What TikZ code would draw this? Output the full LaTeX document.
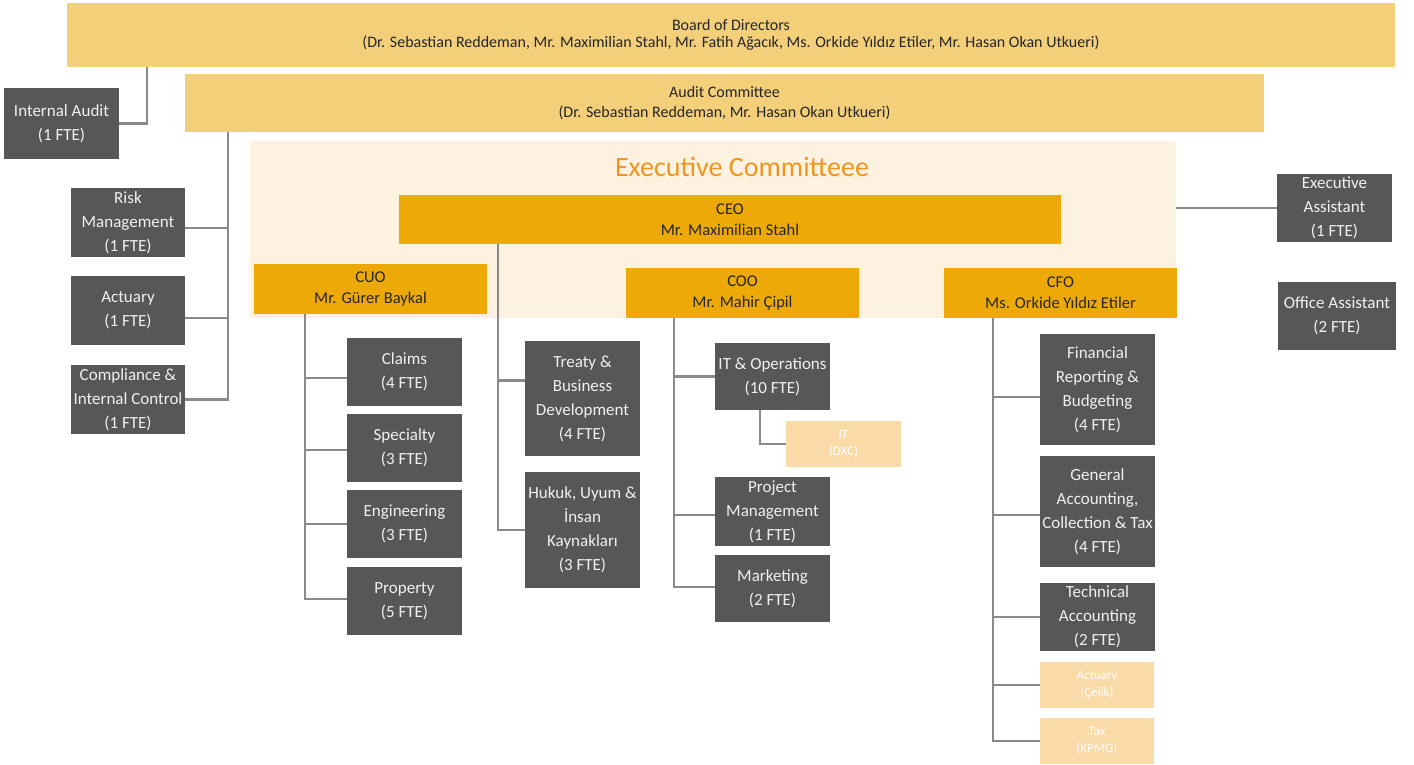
\documentclass[tikz,border=0pt]{standalone}
\usepackage{fontspec}
\setmainfont{Carlito}
\definecolor{boardc}{HTML}{F3CF7A}
\definecolor{execbg}{HTML}{FDF1E0}
\definecolor{goldc}{HTML}{EDA908}
\definecolor{darkc}{HTML}{575756}
\definecolor{palec}{HTML}{FADBA7}
\definecolor{linec}{HTML}{8A8A8A}
\definecolor{titlec}{HTML}{F0961E}
\begin{document}
\begin{tikzpicture}[x=1pt,y=-1pt,
  base/.style={inner sep=0pt, outer sep=0pt, align=center, font=\fontsize{17}{24}\selectfont},
  dbox/.style={base, fill=darkc, text=white!94!black},
  gbox/.style={base, fill=goldc, text=black!85, font=\fontsize{16.5}{21}\selectfont},
  ybox/.style={base, fill=boardc, text=black!85, font=\fontsize{16}{20}\selectfont},
  pbox/.style={base, fill=palec, text=white, font=\fontsize{13}{17}\selectfont},
  conn/.style={draw=linec, line width=2.2pt}]
\useasboundingbox (0,0) rectangle (1414,765);
% helper: boxes by corners
\newcommand{\bx}[7]{\node[#1, minimum width={#5-#3}, minimum height={#6-#4}] (#2) at ({(#3+#5)/2},{(#4+#6)/2}) {#7};}
% top
\bx{ybox}{board}{67}{3}{1395}{67}{\raisebox{-2pt}{Board of Directors}\\[-1pt](Dr. Sebastian Reddeman, Mr. Maximilian Stahl, Mr. Fatih Ağacık, Ms. Orkide Yıldız Etiler, Mr. Hasan Okan Utkueri)}
\bx{ybox}{audit}{185}{74}{1264}{132}{Audit Committee\\(Dr. Sebastian Reddeman, Mr. Hasan Okan Utkueri)}
\bx{base,fill=execbg}{exec}{250}{141}{1176}{318}{}
\node[base, text=titlec, font=\fontsize{28}{30}\selectfont] (title) at (742,167) {Executive Committeee};
\bx{gbox}{ceo}{399}{195}{1061}{244}{CEO\\Mr. Maximilian Stahl}
\bx{gbox}{cuo}{254}{264}{487}{314}{CUO\\Mr. Gürer Baykal}
\bx{gbox}{coo}{626}{268}{859}{318}{COO\\Mr. Mahir Çipil}
\bx{gbox}{cfo}{944}{268}{1177}{318}{CFO\\Ms. Orkide Yıldız Etiler}
% left side
\bx{dbox}{ia}{4}{88}{119}{159}{Internal Audit\\(1 FTE)}
\bx{dbox}{risk}{71}{188}{185}{257}{Risk\\Management\\(1 FTE)}
\bx{dbox}{act}{71}{276}{185}{345}{Actuary\\(1 FTE)}
\bx{dbox}{comp}{71}{365}{185}{434}{Compliance \&\\Internal Control\\(1 FTE)}
% right side
\bx{dbox}{ea}{1277}{174}{1392}{242}{Executive\\Assistant\\(1 FTE)}
\bx{dbox}{oa}{1278}{282}{1396}{350}{Office Assistant\\(2 FTE)}
% CUO
\bx{dbox}{claims}{347}{338}{462}{406}{Claims\\(4 FTE)}
\bx{dbox}{spec}{347}{414}{462}{482}{Specialty\\(3 FTE)}
\bx{dbox}{eng}{347}{490}{462}{558}{Engineering\\(3 FTE)}
\bx{dbox}{prop}{347}{567}{462}{635}{Property\\(5 FTE)}
% CEO direct
\bx{dbox}{treaty}{525}{341}{640}{456}{Treaty \&\\Business\\Development\\(4 FTE)}
\bx{dbox}{hukuk}{525}{472}{640}{588}{Hukuk, Uyum \&\\İnsan\\Kaynakları\\(3 FTE)}
% COO
\bx{dbox}{itops}{715}{343}{830}{410}{IT \& Operations\\(10 FTE)}
\bx{pbox}{itdxc}{786}{421}{901}{467}{IT\\(DXC)}
\bx{dbox}{pm}{715}{477}{830}{546}{Project\\Management\\(1 FTE)}
\bx{dbox}{mkt}{715}{555}{830}{622}{Marketing\\(2 FTE)}
% CFO
\bx{dbox}{fin}{1040}{334}{1155}{445}{Financial\\Reporting \&\\Budgeting\\(4 FTE)}
\bx{dbox}{gen}{1040}{456}{1155}{567}{General\\Accounting,\\Collection \& Tax\\(4 FTE)}
\bx{dbox}{tech}{1040}{583}{1155}{651}{Technical\\Accounting\\(2 FTE)}
\bx{pbox}{actc}{1040}{662}{1154}{708}{Actuary\\(Çelik)}
\bx{pbox}{tax}{1040}{718}{1154}{764}{Tax\\(KPMG)}
% junction coordinates
\coordinate (bj) at (147,67);
\coordinate (aj) at (228,132);
\coordinate (ceoj) at (498,244);
\coordinate (cuoj) at (305,314);
\coordinate (cooj) at (674,318);
\coordinate (cfoj) at (993,318);
\coordinate (itj) at (760,410);
% connectors
\draw[conn] (ia.east) -| (bj);
\draw[conn] (aj) |- ([yshift=-5.5]risk.east);
\draw[conn] (aj) |- ([yshift=-7.5]act.east);
\draw[conn] (aj) |- (comp.east);
\draw[conn] (ea.west) -- (ea.west -| exec.east);
\draw[conn] (cuoj) |- ([yshift=-6]claims.west);
\draw[conn] (cuoj) |- ([yshift=-2]spec.west);
\draw[conn] (cuoj) |- (eng.west);
\draw[conn] (cuoj) |- ([yshift=2]prop.west);
\draw[conn] (ceoj) |- ([yshift=18]treaty.west);
\draw[conn] (ceoj) |- (hukuk.west);
\draw[conn] (cooj) |- (itops.west);
\draw[conn] (cooj) |- ([yshift=-3.5]pm.west);
\draw[conn] (cooj) |- ([yshift=1.5]mkt.west);
\draw[conn] (itj) |- (itdxc.west);
\draw[conn] (cfoj) |- ([yshift=-7.5]fin.west);
\draw[conn] (cfoj) |- ([yshift=-3.5]gen.west);
\draw[conn] (cfoj) |- (tech.west);
\draw[conn] (cfoj) |- (actc.west);
\draw[conn] (cfoj) |- (tax.west);
\end{tikzpicture}
\end{document}
